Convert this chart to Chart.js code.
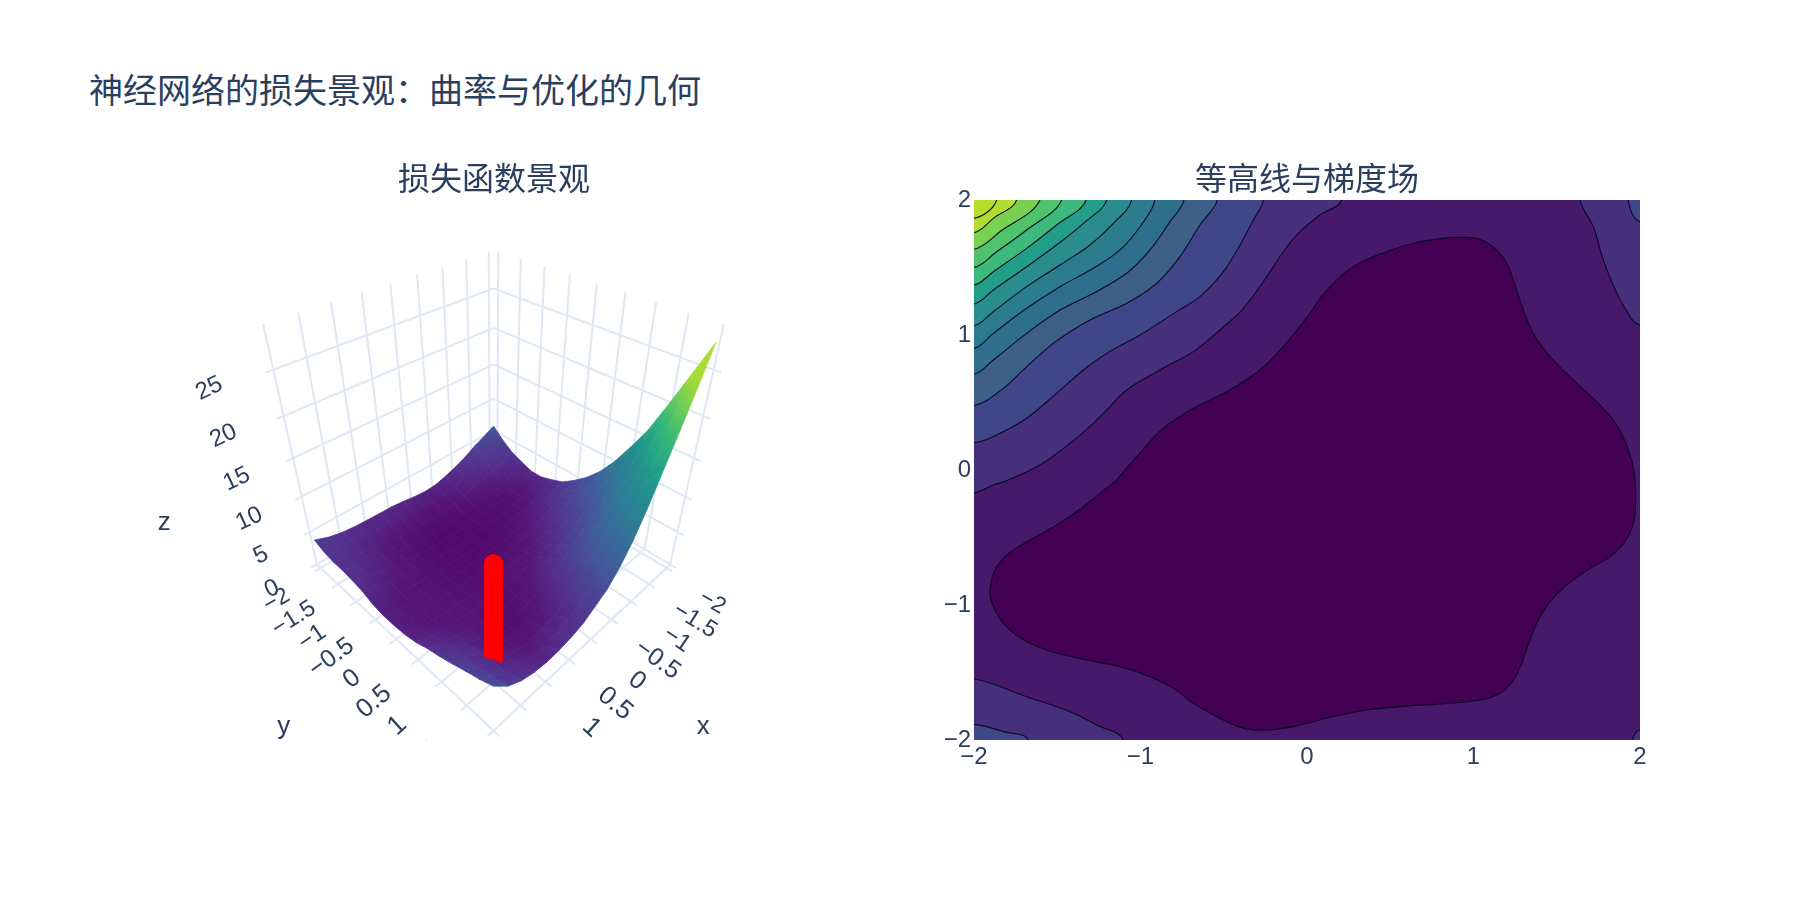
<!DOCTYPE html>
<html lang="zh">
<head>
<meta charset="utf-8">
<title>神经网络的损失景观</title>
<script src="https://cdn.jsdelivr.net/npm/chart.js@4/dist/chart.umd.min.js"></script>
<style>
  html, body { margin: 0; background: #fff; width: 1800px; height: 900px; overflow: hidden; }
  h1 { position: absolute; left: 89px; top: 66px; margin: 0; font: normal 34px/46px "Noto Sans CJK SC"; color: #2a3f5f; }
  #surfaceChart { position: absolute; left: 94px; top: 140px; }
  #contourChart { position: absolute; left: 907px; top: 140px; }
</style>
</head>
<body>
<h1>神经网络的损失景观：曲率与优化的几何</h1>
<canvas id="surfaceChart" width="800" height="601"></canvas>
<canvas id="contourChart" width="800" height="660"></canvas>
<script>
// loss heights, rows run from y = 2 down to y = -2, columns from x = -2 to x = 2
const gridStep = [-2, -1.75, -1.5, -1.25, -1, -0.75, -0.5, -0.25, 0, 0.25, 0.5, 0.75, 1, 1.25, 1.5, 1.75, 2];
const lossZ = [
  [28, 24.1, 20.4, 16.8, 13.2, 10.1, 7.7, 5.95, 4.9, 3.9, 3.4, 3.1, 3, 3.2, 3.7, 4.7, 6.5],
  [24, 20.5, 17.1, 14.2, 11.5, 8.75, 6.9, 5.3, 3.8, 3.1, 2.6, 2.2, 2.05, 2.5, 3.1, 4.15, 5.7],
  [20, 16.8, 13.9, 11.8, 9.6, 7.6, 6.1, 4.3, 3.15, 2.1, 1.7, 1.5, 1.6, 2.1, 2.9, 3.8, 5.1],
  [16.2, 13.45, 11, 9.2, 7.65, 6.35, 4.9, 3.5, 2.3, 1.6, 1.2, 1, 1.2, 1.85, 2.7, 3.5, 4.4],
  [13.2, 10.55, 8.45, 7.1, 6, 4.9, 3.75, 2.8, 1.8, 1.2, 0.8, 0.9, 1.1, 1.6, 2.4, 3.1, 3.8],
  [10.4, 8.4, 6.9, 5.6, 4.5, 3.55, 2.75, 1.9, 1.3, 0.95, 0.85, 1, 1.2, 1.5, 1.95, 2.6, 3.3],
  [8.1, 6.85, 5.65, 4.45, 3.4, 2.5, 1.8, 1.4, 1.15, 1, 1, 1.1, 1.2, 1.35, 1.6, 2, 2.6],
  [6.3, 5.45, 4.5, 3.45, 2.4, 1.7, 1.35, 1.15, 1.05, 1, 0.95, 1, 1.15, 1.25, 1.4, 1.7, 2.2],
  [4.9, 4.3, 3.4, 2.55, 1.8, 1.35, 1, 0.85, 0.8, 0.8, 0.8, 0.9, 1.1, 1.2, 1.3, 1.5, 2.05],
  [3.7, 3.2, 2.5, 1.8, 1.3, 1, 0.75, 0.65, 0.6, 0.65, 0.7, 0.85, 1, 1.15, 1.3, 1.55, 2.05],
  [3.1, 2.4, 1.75, 1.3, 1, 0.75, 0.6, 0.55, 0.55, 0.6, 0.7, 0.85, 1, 1.15, 1.35, 1.7, 2.3],
  [2.6, 1.7, 1.2, 0.95, 0.8, 0.7, 0.6, 0.55, 0.55, 0.6, 0.7, 0.85, 1.05, 1.3, 1.65, 2.3, 2.9],
  [2.6, 1.6, 1.1, 0.85, 0.75, 0.7, 0.65, 0.55, 0.55, 0.55, 0.65, 0.85, 1.2, 1.6, 2.1, 2.7, 3.2],
  [3.2, 2.15, 1.55, 1.15, 0.95, 0.85, 0.75, 0.65, 0.6, 0.6, 0.75, 1, 1.35, 1.8, 2.4, 2.9, 3.4],
  [3.85, 3.2, 2.6, 2.2, 1.95, 1.5, 1.15, 0.95, 0.85, 0.9, 1.1, 1.35, 1.6, 2, 2.55, 3, 3.4],
  [5.0, 4.3, 3.6, 3.05, 2.6, 2.05, 1.7, 1.5, 1.5, 1.65, 1.9, 2.15, 2.3, 2.55, 2.95, 3.3, 3.7],
  [6.4, 5.6, 4.9, 4, 3.3, 2.75, 2.3, 2.2, 2.35, 2.6, 2.8, 2.85, 2.9, 3, 3.2, 3.6, 4.3]
];

// descent path shown on the surface
const pathX = [1.4, 1.2, 1, 0.75, 0.5, 0.25, 0];
const pathY = [1.4, 1.2, 1, 0.75, 0.5, 0.25, 0];
const pathZ = [2.4, 1.8, 1.1, 1, 1, 1, 0.7];

const axisTicks = [-2, -1.5, -1, -0.5, 0, 0.5, 1, 1.5, 2];
const zTicks = [0, 5, 10, 15, 20, 25];
const contourTicks = [-2, -1, 0, 1, 2];

// iso-lines of the contour panel, [x, y] pairs
const level1 = [[-1.143,-0.074],[-1.023,0.099],[-0.863,0.309],[-0.683,0.457],[-0.483,0.58],[-0.282,0.741],[-0.142,0.914],[0.018,1.16],[0.078,1.272],[0.178,1.407],[0.278,1.506],[0.439,1.6],[0.639,1.679],[0.819,1.716],[0.959,1.723],[1.059,1.699],[1.139,1.63],[1.199,1.531],[1.239,1.407],[1.289,1.222],[1.359,1.012],[1.459,0.84],[1.62,0.642],[1.76,0.481],[1.86,0.333],[1.93,0.148],[1.966,-0.025],[1.974,-0.247],[1.96,-0.395],[1.91,-0.531],[1.82,-0.642],[1.7,-0.728],[1.56,-0.852],[1.46,-0.975],[1.389,-1.111],[1.339,-1.259],[1.289,-1.432],[1.239,-1.556],[1.159,-1.654],[1.039,-1.704],[0.799,-1.733],[0.559,-1.753],[0.358,-1.778],[0.158,-1.827],[-0.082,-1.901],[-0.242,-1.926],[-0.382,-1.914],[-0.522,-1.84],[-0.682,-1.728],[-0.802,-1.617],[-0.943,-1.531],[-1.123,-1.457],[-1.323,-1.407],[-1.503,-1.358],[-1.663,-1.284],[-1.784,-1.185],[-1.864,-1.062],[-1.904,-0.914],[-1.874,-0.741],[-1.804,-0.63],[-1.663,-0.519],[-1.503,-0.407],[-1.343,-0.272],[-1.243,-0.173],[-1.143,-0.074]];
const level2TopLeft = [[-2,-0.168],[-1.884,-0.111],[-1.794,-0.074],[-1.604,0.037],[-1.423,0.198],[-1.283,0.346],[-1.203,0.444],[-1.083,0.593],[-0.883,0.741],[-0.683,0.877],[-0.523,1.037],[-0.382,1.198],[-0.242,1.432],[-0.142,1.617],[-0.042,1.765],[0.078,1.889],[0.208,2]];
const level2TopRight = [[1.64,2],[1.72,1.802],[1.77,1.593],[1.83,1.395],[1.91,1.198],[2,1.074]];
const level2BottomLeft = [[-2,-1.548],[-1.684,-1.679],[-1.423,-1.79],[-1.263,-1.889],[-1.103,-2]];
const level2BottomRight = [[2,-1.926],[1.956,-2]];
const level3TopLeft = [[-2,0.202],[-1.864,0.259],[-1.684,0.383],[-1.504,0.568],[-1.343,0.741],[-1.203,0.864],[-1.003,1],[-0.783,1.173],[-0.643,1.284],[-0.502,1.469],[-0.402,1.667],[-0.322,1.852],[-0.262,2]];
const level3TopRight = [[1.93,2],[2,1.84]];
const level3BottomLeft = [[-2,-1.884],[-1.824,-1.938],[-1.674,-2]];
const level4 = [[-2,0.477],[-1.824,0.605],[-1.704,0.741],[-1.524,0.938],[-1.303,1.111],[-1.083,1.235],[-0.903,1.383],[-0.763,1.58],[-0.643,1.815],[-0.539,2]];
const level5 = [[-2,0.709],[-1.884,0.815],[-1.684,1.012],[-1.483,1.185],[-1.283,1.309],[-1.083,1.457],[-0.943,1.63],[-0.823,1.84],[-0.739,2]];
const level6 = [[-2,0.901],[-1.884,1.012],[-1.684,1.198],[-1.483,1.358],[-1.283,1.494],[-1.123,1.63],[-1.003,1.802],[-0.913,2]];
const level7 = [[-2,1.069],[-1.884,1.173],[-1.684,1.358],[-1.483,1.519],[-1.303,1.667],[-1.163,1.827],[-1.053,2]];
const level8 = [[-2,1.23],[-1.884,1.333],[-1.684,1.506],[-1.504,1.667],[-1.343,1.827],[-1.203,2]];
const level9 = [[-2,1.37],[-1.884,1.469],[-1.684,1.642],[-1.504,1.815],[-1.327,2]];
const level10 = [[-2,1.501],[-1.864,1.617],[-1.684,1.778],[-1.473,2]];
const level11 = [[-2,1.635],[-1.844,1.765],[-1.604,2]];
const level12 = [[-2,1.758],[-1.884,1.864],[-1.744,2]];
const level13 = [[-2,1.864],[-1.864,2]];

const bandColors = ['#440154', '#47196a', '#46307c', '#3f4788', '#3d5f88', '#2f6f8e', '#2c7c8e', '#2a8c8d', '#229d88', '#3db97c', '#4ec36b', '#7ad151', '#b0dd2f', '#b5de2b'];
const viridisStops = ['#440154', '#482878', '#3e4989', '#31688e', '#26828e', '#1f9e89', '#35b779', '#6ece58', '#b5de2b', '#fde725'];

const TEXT_COLOR = '#2a3f5f';
const GRID_COLOR = '#dfe8f3';
const BOX_EDGE = 2.11;
const Z_TOP = 29.5;

// perspective view of the box, looking along the x = y diagonal
function project(x, y, z) {
    const s = (y - x) / 4.11;
    const t = (x + y) / 4.11;
    const w = z / Z_TOP;
    const d = 1 - 0.23 * t - 0.235 * w;
    return { x: 493.5 + 182 * s / d, y: (574.5 - 323 * w) / d };
}

function hexToRgb(hex) {
    return [1, 3, 5].map(i => parseInt(hex.slice(i, i + 2), 16));
}

function surfaceColor(z) {
    const v = Math.min(z / 28, 0.875) * (viridisStops.length - 1);
    const i = Math.floor(v);
    const a = hexToRgb(viridisStops[i]);
    const b = hexToRgb(viridisStops[i + 1]);
    const lift = 1 + 0.22 * Math.max(0, 1 - z / 14);
    const c = a.map((ch, k) => Math.min(255, Math.round((ch + (b[k] - ch) * (v - i)) * lift)));
    return `rgb(${c[0]},${c[1]},${c[2]})`;
}

function gridLine(from, to) {
    const a = project(from[0], from[1], from[2]);
    const b = project(to[0], to[1], to[2]);
    return {
        data: [a, b], showLine: true, borderColor: GRID_COLOR, borderWidth: 2,
        pointRadius: 0, fill: false, clip: false
    };
}

function buildGrid() {
    const lines = [];
    const e = BOX_EDGE;
    axisTicks.forEach(v => {
        lines.push(gridLine([v, -e, 0], [v, -e, Z_TOP]));
        lines.push(gridLine([-e, v, 0], [-e, v, Z_TOP]));
        lines.push(gridLine([v, -e, 0], [v, e, 0]));
        lines.push(gridLine([-e, v, 0], [e, v, 0]));
    });
    zTicks.forEach(z => {
        lines.push(gridLine([-e, -e, z], [e, -e, z]));
        lines.push(gridLine([-e, -e, z], [-e, e, z]));
    });
    return lines;
}

function buildSurface() {
    const cells = [];
    for (let r = 0; r < lossZ.length - 1; r++) {
        for (let c = 0; c < gridStep.length - 1; c++) {
            const corners = [[c, r], [c + 1, r], [c + 1, r + 1], [c, r + 1]].map(([ci, ri]) => ({
                x: gridStep[ci], y: gridStep[gridStep.length - 1 - ri], z: lossZ[ri][ci]
            }));
            const pts = corners.map(p => project(p.x, p.y, p.z));
            pts.push(pts[0]);
            const sorted = corners.slice().sort((a, b) => a.z - b.z);
            const lo = sorted[0], hi = sorted[3];
            const paint = ctx => {
                const { x: sx, y: sy } = ctx.chart.scales;
                const a = project(lo.x, lo.y, lo.z), b = project(hi.x, hi.y, hi.z);
                const ends = [sx.getPixelForValue(a.x), sy.getPixelForValue(a.y), sx.getPixelForValue(b.x), sy.getPixelForValue(b.y)];
                // scales have no size yet on the first pass
                if (!ends.every(Number.isFinite)) return surfaceColor(lo.z);
                const g = ctx.chart.ctx.createLinearGradient(ends[0], ends[1], ends[2], ends[3]);
                [0, 0.25, 0.5, 0.75, 1].forEach(f => g.addColorStop(f, surfaceColor(lo.z + (hi.z - lo.z) * f)));
                return g;
            };
            cells.push({
                depth: corners[0].x + corners[0].y,
                data: pts, showLine: true, pointRadius: 0, clip: false,
                fill: 'shape', backgroundColor: paint, borderColor: paint, borderWidth: 0.8
            });
        }
    }
    // far cells first so nearer ones paint over them
    return cells.sort((a, b) => a.depth - b.depth);
}

const PATH_WIDTH = 19;

function buildPath() {
    const pts = pathX.map((x, i) => project(x, pathY[i], pathZ[i]));
    const start = pts[0];
    const half = PATH_WIDTH / 2;
    // the slanted foot where the path begins
    const foot = [
        { x: start.x - half, y: start.y }, { x: start.x + half, y: start.y },
        { x: start.x + half, y: start.y + 6 }, { x: start.x - half, y: start.y }
    ];
    return [{
        data: pts, showLine: true, borderColor: '#ff0000', borderWidth: PATH_WIDTH,
        pointRadius: pts.map((p, i) => i === pts.length - 1 ? half : 0),
        pointBackgroundColor: '#ff0000', pointBorderWidth: 0, fill: false, clip: false
    }, {
        data: foot, showLine: true, pointRadius: 0, borderWidth: 0, clip: false,
        fill: 'shape', backgroundColor: '#ff0000'
    }];
}

// rotated axis text of the 3D box
const boxLabels = {
    id: 'boxLabels',
    afterDatasetsDraw(chart) {
        const { ctx, scales } = chart;
        const put = (text, p, dx, dy, deg, size) => {
            ctx.save();
            ctx.translate(scales.x.getPixelForValue(p.x) + dx, scales.y.getPixelForValue(p.y) + dy);
            ctx.rotate(deg * Math.PI / 180);
            ctx.font = `${size}px "Liberation Sans"`;
            ctx.fillStyle = TEXT_COLOR;
            ctx.textAlign = 'center';
            ctx.textBaseline = 'middle';
            ctx.fillText(text, 0, 0);
            ctx.restore();
        };
        const fmt = v => String(v).replace('-', '\u2212');
        axisTicks.forEach(v => {
            // the front-most ticks fall past the lower edge of the canvas
            const dy = 29 + 3.3 * (v + 2) + (v > 1 ? 9 : 0);
            const turn = 30 + 4 * (v + 2);
            const size = 23 + 1.3 * (v + 2);
            put(fmt(v), project(BOX_EDGE, v, 0), -38, dy, -turn, size);
            put(fmt(v), project(v, BOX_EDGE, 0), 40, dy + 2, turn, size);
        });
        zTicks.forEach(z => {
            put(fmt(z), project(BOX_EDGE, -BOX_EDGE, z), -39 - 0.7 * z, 21 - 0.2 * z, -25, 24);
        });
        put('x', project(1.75, BOX_EDGE, 0), 190, 3, 0, 26);
        put('y', project(BOX_EDGE, 1.75, 0), -190, 3, 0, 26);
        put('z', project(BOX_EDGE, -BOX_EDGE, 10), -131, 23, 0, 26);
    }
};

function panelTitle(text) {
    return {
        display: true, text: text, color: TEXT_COLOR,
        font: { family: '"Noto Sans CJK SC"', size: 32, weight: 'normal', lineHeight: 1.2 },
        padding: { top: 18.8, bottom: 2.8 }
    };
}

new Chart(document.getElementById('surfaceChart'), {
    type: 'scatter',
    data: { datasets: buildPath().concat(buildSurface().reverse(), buildGrid()) },
    options: {
        responsive: false, animation: false, devicePixelRatio: 1,
        events: [],
        layout: { padding: 0 },
        plugins: { legend: { display: false }, tooltip: { enabled: false }, title: panelTitle('损失函数景观') },
        scales: {
            x: { type: 'linear', display: false, min: 94, max: 894 },
            y: { type: 'linear', display: false, min: 200, max: 741, reverse: true }
        }
    },
    plugins: [boxLabels]
});

// a filled region: the iso-line pushed past the frame and closed round one corner
function region(points, corner, color) {
    const first = points[0], last = points[points.length - 1];
    const out = p => [
        Math.abs(p[0]) === 2 ? p[0] * 1.2 : p[0],
        Math.abs(p[1]) === 2 ? p[1] * 1.2 : p[1]
    ];
    const path = [out(first), ...points, out(last), corner, out(first)];
    return contourSet(path, color);
}

function contourSet(path, color) {
    return {
        data: path.map(p => ({ x: p[0], y: p[1] })),
        showLine: true, pointRadius: 0, tension: 0.35, clip: 0,
        fill: 'shape', backgroundColor: color,
        borderColor: 'rgba(10,5,30,0.95)', borderWidth: 1.1
    };
}

const TL = [-2.6, 2.6], TR = [2.6, 2.6], BL = [-2.6, -2.6], BR = [2.6, -2.6];
const contourLayers = [
    { data: [{x:-3,y:-3},{x:3,y:-3},{x:3,y:3},{x:-3,y:3},{x:-3,y:-3}], showLine: true, pointRadius: 0, fill: 'shape', backgroundColor: bandColors[1], borderWidth: 0 },
    contourSet(level1, bandColors[0]),
    region(level2TopLeft, TL, bandColors[2]),
    region(level2TopRight, TR, bandColors[2]),
    region(level2BottomLeft, BL, bandColors[2]),
    region(level2BottomRight, BR, bandColors[2]),
    region(level3TopLeft, TL, bandColors[3]),
    region(level3TopRight, TR, bandColors[3]),
    region(level3BottomLeft, BL, bandColors[3]),
    region(level4, TL, bandColors[4]),
    region(level5, TL, bandColors[5]),
    region(level6, TL, bandColors[6]),
    region(level7, TL, bandColors[7]),
    region(level8, TL, bandColors[8]),
    region(level9, TL, bandColors[9]),
    region(level10, TL, bandColors[10]),
    region(level11, TL, bandColors[11]),
    region(level12, TL, bandColors[12]),
    region(level13, TL, bandColors[13])
];

const tickFont = { family: '"Liberation Sans"', size: 24 };
const fmtTick = v => String(v).replace('-', '\u2212');
const noLines = { display: false, drawTicks: false };

new Chart(document.getElementById('contourChart'), {
    type: 'scatter',
    data: { datasets: contourLayers.reverse() },
    options: {
        responsive: false, animation: false, devicePixelRatio: 1,
        events: [],
        layout: { padding: 0 },
        plugins: { legend: { display: false }, tooltip: { enabled: false }, title: panelTitle('等高线与梯度场') },
        scales: {
            x: {
                type: 'linear', min: -2, max: 2,
                afterBuildTicks: s => { s.ticks = contourTicks.map(v => ({ value: v })); },
                afterFit: s => { s.height = 60; },
                grid: noLines, border: { display: false },
                ticks: { color: TEXT_COLOR, font: tickFont, padding: 3, maxRotation: 0, callback: fmtTick }
            },
            y: {
                type: 'linear', min: -2, max: 2,
                afterBuildTicks: s => { s.ticks = contourTicks.map(v => ({ value: v })); },
                afterFit: s => { s.width = 67; },
                grid: noLines, border: { display: false },
                ticks: { color: TEXT_COLOR, font: tickFont, padding: 3, callback: fmtTick }
            },
            // empty margin on the right keeps the panel title over the plot
            margin: {
                type: 'linear', position: 'right', display: true,
                afterFit: s => { s.width = 67; },
                grid: noLines, border: { display: false }, ticks: { display: false }
            }
        }
    }
});
</script>
</body>
</html>
